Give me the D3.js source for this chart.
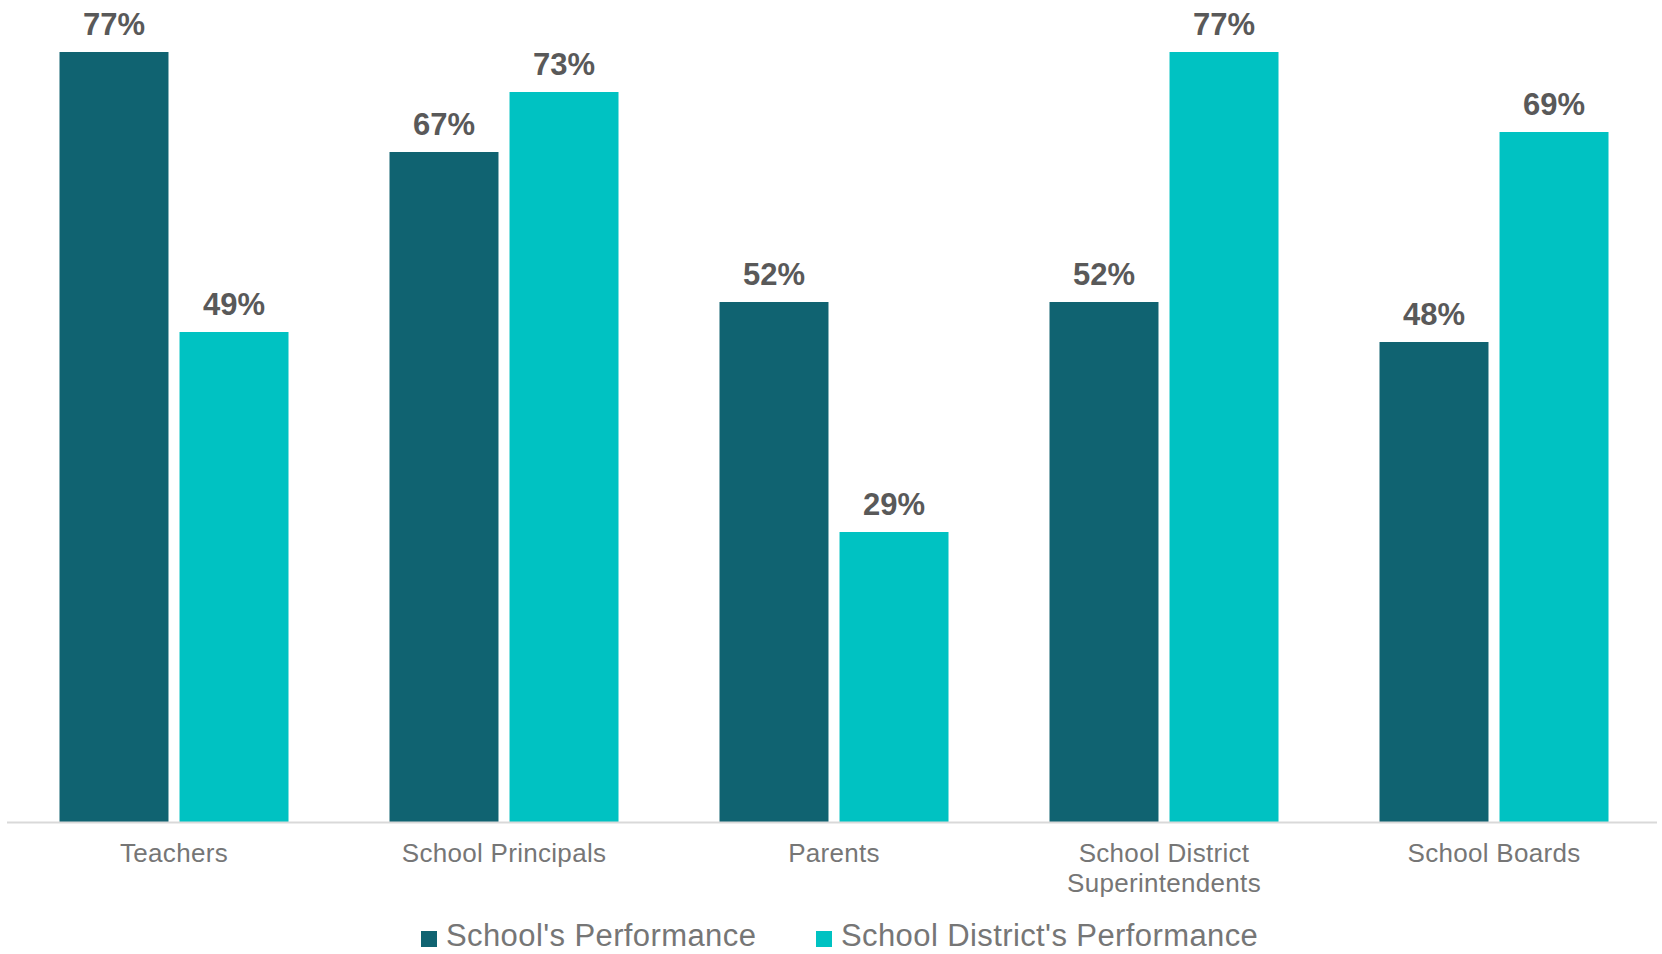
<!DOCTYPE html>
<html>
<head>
<meta charset="utf-8">
<script src="https://cdn.jsdelivr.net/npm/d3@7/dist/d3.min.js"></script>
<style>
  html, body { margin: 0; padding: 0; background: #ffffff; }
  svg { display: block; }
</style>
</head>
<body>
<svg id="chart" width="1662" height="954"></svg>
<script>
const categories = ["Teachers", "School Principals", "Parents", "School District\nSuperintendents", "School Boards"];
const seriesNames = ["School's Performance", "School District's Performance"];
const schoolValues = [77, 67, 52, 52, 48];
const districtValues = [49, 73, 29, 77, 69];
const seriesColors = ["#106371", "#00C2C2"];

const svg = d3.select("#chart");
const font = "'Liberation Sans', Arial, Helvetica, sans-serif";

const x0 = d3.scaleBand().domain(categories).range([9, 1659]).padding(0);
const x1 = d3.scaleBand().domain(seriesNames)
  .range([50.5, x0.bandwidth() - 50.5]).paddingInner(0.092).paddingOuter(0);
const y = d3.scaleLinear().domain([0, 80]).range([822, 22]);

const data = categories.map((c, i) => ({
  cat: c,
  vals: [
    { s: seriesNames[0], v: schoolValues[i], color: seriesColors[0] },
    { s: seriesNames[1], v: districtValues[i], color: seriesColors[1] }
  ]
}));

const groups = svg.append("g").selectAll("g").data(data).join("g")
  .attr("transform", d => `translate(${x0(d.cat)},0)`);

groups.selectAll("rect").data(d => d.vals).join("rect")
  .attr("x", d => x1(d.s))
  .attr("y", d => y(d.v))
  .attr("width", x1.bandwidth())
  .attr("height", d => y(0) - y(d.v))
  .attr("fill", d => d.color);

groups.selectAll("text.val").data(d => d.vals).join("text")
  .attr("class", "val")
  .attr("x", d => x1(d.s) + x1.bandwidth() / 2)
  .attr("y", d => y(d.v) - 17)
  .attr("text-anchor", "middle")
  .attr("font-family", font)
  .attr("font-weight", "bold")
  .attr("font-size", 31)
  .attr("fill", "#595959")
  .text(d => d.v + "%");

// x axis
const axis = svg.append("g")
  .attr("transform", `translate(0,${y(0)})`)
  .call(d3.axisBottom(x0).tickSize(0).tickSizeOuter(0).tickPadding(0));
axis.select(".domain").attr("stroke", "#d9d9d9").attr("stroke-width", 2)
  .attr("d", "M7,0.5H1657");
axis.selectAll(".tick text").each(function(d) {
  const t = d3.select(this);
  const lines = d.split("\n");
  t.text(null)
    .attr("font-family", font)
    .attr("font-size", 26)
    .attr("letter-spacing", 0.3)
    .attr("fill", "#767676")
    .attr("dy", null)
    .attr("y", 40);
  lines.forEach((ln, i) => {
    t.append("tspan").attr("x", 0).attr("dy", i === 0 ? 0 : 30).text(ln);
  });
});

// legend
const legend = svg.append("g").attr("font-family", font);
const legendItems = [
  { name: seriesNames[0], color: seriesColors[0], x: 421 },
  { name: seriesNames[1], color: seriesColors[1], x: 816 }
];
const li = legend.selectAll("g").data(legendItems).join("g")
  .attr("transform", d => `translate(${d.x},0)`);
li.append("rect").attr("x", 0).attr("y", 931).attr("width", 16).attr("height", 16)
  .attr("fill", d => d.color);
li.append("text").attr("x", 25).attr("y", 946)
  .attr("font-size", 31).attr("letter-spacing", 0.4).attr("fill", "#767676")
  .text(d => d.name);
</script>
</body>
</html>
